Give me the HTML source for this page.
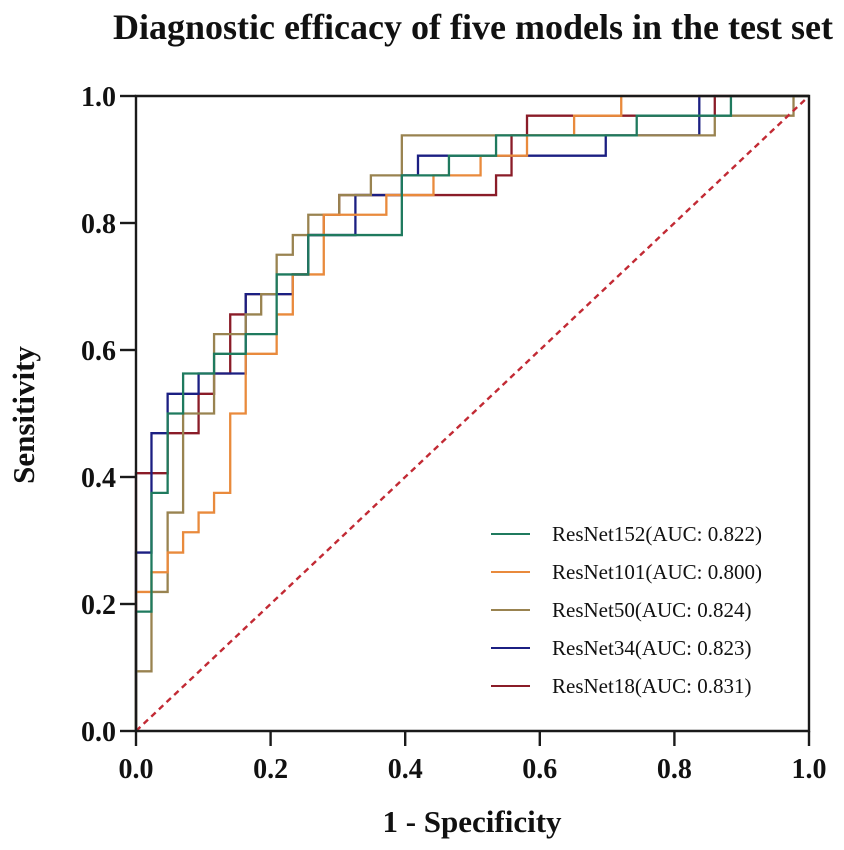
<!DOCTYPE html>
<html lang="en">
<head>
<meta charset="utf-8">
<title>Diagnostic efficacy of five models in the test set</title>
<style>
html,body{margin:0;padding:0;background:#fff;width:844px;height:850px;overflow:hidden}
svg{display:block}
text{font-family:"Liberation Serif",serif;fill:#111}
.b{font-weight:bold}
</style>
</head>
<body>
<svg id="chart" xmlns="http://www.w3.org/2000/svg" width="844" height="850" viewBox="0 0 844 850">
<rect width="844" height="850" fill="#fff"/>
<text class="b" x="473" y="39" font-size="36" text-anchor="middle" textLength="720" lengthAdjust="spacingAndGlyphs">Diagnostic efficacy of five models in the test set</text>
<text class="b" x="0" y="0" font-size="31" text-anchor="middle" transform="translate(34,415) rotate(-90)">Sensitivity</text>
<text class="b" x="472" y="832" font-size="31" text-anchor="middle">1 - Specificity</text>
<g id="series"></g>
<line id="diag" stroke="#c22a34" stroke-width="2.4" stroke-dasharray="6 4.5"/>
<g id="axes"></g>
<g id="legend"></g>
</svg>
<script>
const xTicks = [0, 0.2, 0.4, 0.6, 0.8, 1];
const yTicks = [0, 0.2, 0.4, 0.6, 0.8, 1];
const tickLabels = ["0.0", "0.2", "0.4", "0.6", "0.8", "1.0"];

const modelNames = ["ResNet18", "ResNet34", "ResNet50", "ResNet101", "ResNet152"];
const aucValues = ["0.831", "0.823", "0.824", "0.800", "0.822"];
const modelColors = ["#8a1c28", "#1b1f82", "#998350", "#e98a3c", "#1f7a5e"];
const legendOrder = ["ResNet152", "ResNet101", "ResNet50", "ResNet34", "ResNet18"];

/* Each curve rises at fpr[i] to tpr[i], then runs right to fpr[i+1]. */
const fpr18 = [0, .047, .093, .116, .140, .163, .233, .256, .279, .302, .535, .558, .581, .860, 1];
const tpr18 = [.406, .469, .531, .563, .656, .688, .719, .781, .813, .844, .875, .938, .969, 1, 1];

const fpr34 = [0, .023, .047, .093, .163, .233, .256, .326, .395, .419, .698, .837, 1];
const tpr34 = [.281, .469, .531, .563, .688, .719, .781, .844, .875, .906, .938, 1, 1];

const fpr50 = [0, .023, .047, .070, .116, .163, .186, .209, .233, .256, .302, .349, .395, .860, .977, 1];
const tpr50 = [.094, .219, .344, .5, .625, .656, .688, .75, .781, .813, .844, .875, .938, .969, 1, 1];

const fpr101 = [0, .023, .047, .070, .093, .116, .140, .163, .209, .233, .279, .372, .442, .512, .581, .651, .721, 1];
const tpr101 = [.219, .25, .281, .313, .344, .375, .5, .594, .656, .719, .813, .844, .875, .906, .938, .969, 1, 1];

const fpr152 = [0, .023, .047, .070, .116, .163, .209, .256, .395, .465, .535, .744, .884, 1];
const tpr152 = [.188, .375, .5, .563, .594, .625, .719, .781, .875, .906, .938, .969, 1, 1];

const fprSeries = [fpr18, fpr34, fpr50, fpr101, fpr152];
const tprSeries = [tpr18, tpr34, tpr50, tpr101, tpr152];

const NS = "http://www.w3.org/2000/svg";
const sx = v => 136 + 673 * v;
const sy = v => 731 - 635 * v;

function mk(tag, attrs, parent, txt) {
  const el = document.createElementNS(NS, tag);
  for (const k in attrs) el.setAttribute(k, attrs[k]);
  if (txt !== undefined) el.textContent = txt;
  parent.appendChild(el);
  return el;
}

const seriesG = document.getElementById("series");
modelNames.forEach((name, s) => {
  const xs = fprSeries[s], ys = tprSeries[s];
  let d = "M" + sx(xs[0]) + " " + sy(0);
  xs.forEach((x, i) => {
    d += "H" + sx(x).toFixed(2) + "V" + sy(ys[i]).toFixed(2);
  });
  const p = mk("path", {d: d, fill: "none", stroke: modelColors[s], "stroke-width": 2.3, "stroke-linejoin": "miter"}, seriesG);
  
  
});

const diag = document.getElementById("diag");
diag.setAttribute("x1", sx(0));
diag.setAttribute("y1", sy(0));
diag.setAttribute("x2", sx(1));
diag.setAttribute("y2", sy(1));

const axes = document.getElementById("axes");
const frame = mk("path", {d: "M" + sx(0) + " " + sy(0) + "V" + sy(1) + "H" + sx(1) + "V" + sy(0) + "H" + sx(0), fill: "none", stroke: "#1a1a1a", "stroke-width": 2.4}, axes);



xTicks.forEach((v, i) => {
  const t = mk("line", {x1: sx(v), x2: sx(v), y1: sy(0), y2: sy(0) + 15, stroke: "#1a1a1a", "stroke-width": 2.4}, axes);
  
  
  const l = mk("text", {x: sx(v), y: 778, "font-size": 28, "text-anchor": "middle", "class": "b"}, axes, tickLabels[i]);
  
  
});
yTicks.forEach((v, i) => {
  const t = mk("line", {x1: sx(0) - 16, x2: sx(0), y1: sy(v), y2: sy(v), stroke: "#1a1a1a", "stroke-width": 2.4}, axes);
  
  
  const l = mk("text", {x: 116, y: sy(v) + 10, "font-size": 28, "text-anchor": "end", "class": "b"}, axes, tickLabels[i]);
  
  
});

const legend = document.getElementById("legend");
legendOrder.forEach((name, r) => {
  const s = modelNames.indexOf(name);
  const yy = 534 + r * 38;
  const ln = mk("line", {x1: 491, x2: 530, y1: yy, y2: yy, stroke: modelColors[s], "stroke-width": 2}, legend);
  
  
  const tx = mk("text", {x: 552, y: yy + 7, "font-size": 21, fill: "#222"}, legend, name + "(AUC: " + aucValues[s] + ")");
  
  
});
</script>
</body>
</html>
